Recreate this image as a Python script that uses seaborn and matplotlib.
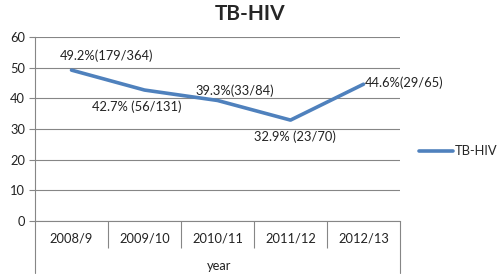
import matplotlib
matplotlib.use("Agg")
import matplotlib.pyplot as plt
import seaborn as sns
import pandas as pd
from matplotlib.lines import Line2D

years = ["2008/9", "2009/10", "2010/11", "2011/12", "2012/13"]
values = [49.2, 42.7, 39.3, 32.9, 44.6]
labels = ["49.2%(179/364)", "42.7% (56/131)", "39.3%(33/84)", "32.9% (23/70)", "44.6%(29/65)"]
yticks = [0, 10, 20, 30, 40, 50, 60]

sns.set_theme(style="white")
plt.rcParams['font.family'] = ['Lato', 'DejaVu Sans']

fig = plt.figure(figsize=(5, 2.78), dpi=100)
ax = fig.add_axes([0.07, 0.205, 0.73, 0.662])

df = pd.DataFrame({"year": years, "value": values, "pos": range(len(years))})
sns.lineplot(data=df, x="pos", y="value", ax=ax, color="#4F81BD", linewidth=2.6,
             sort=False, label="TB-HIV")

fs = 9.3
ax.set_xlim(-0.5, len(years) - 0.5)
ax.set_ylim(0, 60)
ax.set_yticks(yticks)
ax.set_yticklabels([str(v) for v in yticks], fontsize=fs, color="#222222")
ax.set_xticks(range(len(years)))
ax.set_xticklabels(years, fontsize=fs, color="#222222")
ax.tick_params(axis="x", which="major", length=0, pad=8, bottom=True)
ax.set_xticks([i + 0.5 for i in range(len(years) - 1)], minor=True)
ax.tick_params(axis="x", which="minor", length=19.5, width=0.8, color="#868686",
               direction="out", bottom=True)
ax.tick_params(axis="y", which="major", length=4, width=0.8, color="#868686",
               direction="out", left=True, pad=3)

ax.grid(axis="y", color="#868686", linewidth=0.8)
ax.grid(axis="x", visible=False)
for s in ["top", "right"]:
    ax.spines[s].set_visible(False)
ax.spines["left"].set_color("#868686")
ax.spines["left"].set_linewidth(0.8)
ax.spines["bottom"].set_color("#868686")
ax.spines["bottom"].set_linewidth(0.8)

# extended vertical lines at left and right edges below axis
for xa in [0.0, 1.0]:
    ln = Line2D([xa, xa], [0, -0.28], transform=ax.transAxes, color="#868686",
                linewidth=0.8, clip_on=False)
    ax.add_line(ln)

ax.set_xlabel("year", fontsize=fs, color="#222222")
ax.xaxis.set_label_coords(0.503, -0.245)
ax.xaxis.label.set_va("center")
ax.set_ylabel("")

offsets = [(-12, 8, "left", "bottom"), (-53, -10, "left", "top"), (-22, 3, "left", "bottom"),
           (-36, -10, "left", "top"), (1, 1, "left", "center")]
for i, (v, lab) in enumerate(zip(values, labels)):
    dx, dy, ha, va = offsets[i]
    ax.annotate(lab, (i, v), xytext=(dx, dy), textcoords="offset pixels",
                ha=ha, va=va, fontsize=fs, color="#222222")

leg = ax.legend(loc="center left", bbox_to_anchor=(1.02, 0.38), frameon=False,
                fontsize=fs, handlelength=2.6, handletextpad=0.2)

fig.suptitle("TB-HIV", x=0.5, y=0.985, fontsize=15, fontweight="bold", va="top")

fig.savefig("out.png", dpi=100)
